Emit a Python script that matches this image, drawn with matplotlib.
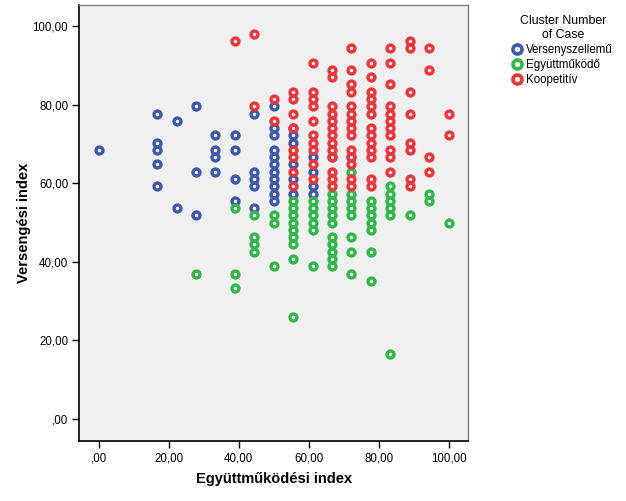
import matplotlib.pyplot as plt
from matplotlib.lines import Line2D

plt.rcParams['font.family'] = ['Liberation Sans', 'DejaVu Sans']

# Klaszterek adatai (Együttműködési index, Versengési index)
versenyszellemu_x = [0.00,
                     16.67, 16.67, 16.67, 16.67, 16.67,
                     22.22, 22.22,
                     27.78, 27.78, 27.78,
                     33.33, 33.33, 33.33, 33.33,
                     38.89, 38.89, 38.89, 38.89,
                     44.44, 44.44, 44.44, 44.44, 44.44,
                     50.00, 50.00, 50.00, 50.00, 50.00, 50.00, 50.00, 50.00, 50.00, 50.00, 50.00,
                     55.56, 55.56, 55.56, 55.56, 55.56, 55.56,
                     61.11, 61.11, 61.11, 61.11,
                     66.67, 72.22]
versenyszellemu_y = [68.52,
                     77.78, 70.37, 68.52, 64.81, 59.26,
                     75.93, 53.70,
                     79.63, 62.96, 51.85,
                     72.22, 68.52, 66.67, 62.96,
                     72.22, 68.52, 61.11, 55.56,
                     77.78, 62.96, 61.11, 59.26, 53.70,
                     79.63, 74.07, 72.22, 68.52, 66.67, 64.81, 62.96, 61.11, 59.26, 57.41, 55.56,
                     74.07, 72.22, 70.37, 64.81, 61.11, 57.41,
                     66.67, 62.96, 59.26, 57.41,
                     66.67, 66.67]

egyuttmukodo_x = [27.78,
                  38.89, 38.89, 38.89,
                  44.44, 44.44, 44.44, 44.44,
                  50.00, 50.00, 50.00,
                  55.56, 55.56, 55.56, 55.56, 55.56, 55.56, 55.56, 55.56, 55.56,
                  61.11, 61.11, 61.11, 61.11, 61.11, 61.11,
                  66.67, 66.67, 66.67, 66.67, 66.67, 66.67, 66.67, 66.67, 66.67, 66.67,
                  72.22, 72.22, 72.22, 72.22, 72.22, 72.22, 72.22, 72.22,
                  77.78, 77.78, 77.78, 77.78, 77.78, 77.78, 77.78,
                  83.33, 83.33, 83.33, 83.33, 83.33, 83.33,
                  88.89,
                  94.44, 94.44,
                  100.00]
egyuttmukodo_y = [37.04,
                  53.70, 37.04, 33.33,
                  51.85, 46.30, 44.44, 42.59,
                  51.85, 50.00, 38.89,
                  55.56, 53.70, 51.85, 50.00, 48.15, 46.30, 44.44, 40.74, 25.93,
                  55.56, 53.70, 51.85, 50.00, 48.15, 38.89,
                  57.41, 55.56, 53.70, 51.85, 50.00, 46.30, 44.44, 42.59, 40.74, 38.89,
                  62.96, 57.41, 55.56, 53.70, 51.85, 46.30, 42.59, 37.04,
                  55.56, 53.70, 51.85, 50.00, 48.15, 42.59, 35.19,
                  59.26, 57.41, 55.56, 53.70, 51.85, 16.67,
                  51.85,
                  57.41, 55.56,
                  50.00]

koopetitiv_x = [38.89,
                44.44, 44.44,
                50.00, 50.00,
                55.56, 55.56, 55.56, 55.56, 55.56, 55.56, 55.56, 55.56,
                61.11, 61.11, 61.11, 61.11, 61.11, 61.11, 61.11, 61.11, 61.11, 61.11,
                66.67, 66.67, 66.67, 66.67, 66.67, 66.67, 66.67, 66.67, 66.67, 66.67, 66.67, 66.67, 66.67,
                72.22, 72.22, 72.22, 72.22, 72.22, 72.22, 72.22, 72.22, 72.22, 72.22, 72.22, 72.22, 72.22, 72.22,
                77.78, 77.78, 77.78, 77.78, 77.78, 77.78, 77.78, 77.78, 77.78, 77.78, 77.78, 77.78, 77.78,
                83.33, 83.33, 83.33, 83.33, 83.33, 83.33, 83.33, 83.33, 83.33, 83.33, 83.33,
                88.89, 88.89, 88.89, 88.89, 88.89, 88.89, 88.89, 88.89,
                94.44, 94.44, 94.44, 94.44,
                100.00, 100.00]
koopetitiv_y = [96.30,
                98.15, 79.63,
                81.48, 75.93,
                83.33, 81.48, 77.78, 74.07, 68.52, 66.67, 62.96, 59.26,
                90.74, 83.33, 81.48, 79.63, 75.93, 72.22, 70.37, 68.52, 64.81, 61.11,
                88.89, 87.04, 79.63, 77.78, 75.93, 74.07, 72.22, 70.37, 68.52, 66.67, 62.96, 61.11, 59.26,
                94.44, 88.89, 85.19, 83.33, 79.63, 77.78, 75.93, 74.07, 72.22, 68.52, 66.67, 64.81, 61.11, 59.26,
                90.74, 87.04, 83.33, 81.48, 79.63, 77.78, 74.07, 72.22, 70.37, 68.52, 66.67, 61.11, 59.26,
                94.44, 90.74, 85.19, 79.63, 77.78, 75.93, 74.07, 72.22, 68.52, 66.67, 62.96,
                96.30, 94.44, 83.33, 77.78, 70.37, 68.52, 61.11, 59.26,
                94.44, 88.89, 66.67, 62.96,
                77.78, 72.22]

klaszterek = ["Versenyszellemű", "Együttműködő", "Koopetitív"]
szinek = ["#3E58AC", "#2EB848", "#EF3338"]

tick_ertekek = [0, 20, 40, 60, 80, 100]
tick_cimkek = [",00", "20,00", "40,00", "60,00", "80,00", "100,00"]

fig = plt.figure(figsize=(6.26, 5.01), dpi=100)
ax = fig.add_axes([0.1267, 0.1198, 0.6213, 0.870])
ax.set_facecolor("#F0F0F0")

adatok = [(versenyszellemu_x, versenyszellemu_y),
          (egyuttmukodo_x, egyuttmukodo_y),
          (koopetitiv_x, koopetitiv_y)]
for (xs, ys), szin in zip(adatok, szinek):
    ax.plot(xs, ys, linestyle="none", marker="o", markersize=5.0,
            markerfacecolor="none", markeredgecolor=szin, markeredgewidth=2.4)

ax.set_xlim(-5.6, 105.6)
ax.set_ylim(-5.6, 105.4)
ax.set_xticks(tick_ertekek)
ax.set_xticklabels(tick_cimkek)
ax.set_yticks(tick_ertekek)
ax.set_yticklabels(tick_cimkek)
ax.tick_params(axis="both", direction="out", length=5, width=1, labelsize=8.3,
               pad=3, color="black")

for s in ["left", "bottom"]:
    ax.spines[s].set_color("black")
    ax.spines[s].set_linewidth(1.2)
for s in ["top", "right"]:
    ax.spines[s].set_color("#7F7F7F")
    ax.spines[s].set_linewidth(1.0)

ax.set_xlabel("Együttműködési index", fontsize=10.5, fontweight="bold", labelpad=6)
ax.set_ylabel("Versengési index", fontsize=10.5, fontweight="bold", labelpad=1)

# jelmagyarazat
kezek = [Line2D([], [], linestyle="none", marker="o", markersize=6.5,
                markerfacecolor="none", markeredgecolor=c, markeredgewidth=2.6)
         for c in szinek]
leg = fig.legend(kezek, klaszterek, title="Cluster Number\nof Case",
                 loc="upper left", bbox_to_anchor=(0.813, 0.979), frameon=False,
                 fontsize=8.3, title_fontsize=8.8, handlelength=0.6,
                 handletextpad=0.45, labelspacing=0.25, borderaxespad=0)
leg.get_title().set_multialignment("center")

fig.savefig("out.png", dpi=100)
